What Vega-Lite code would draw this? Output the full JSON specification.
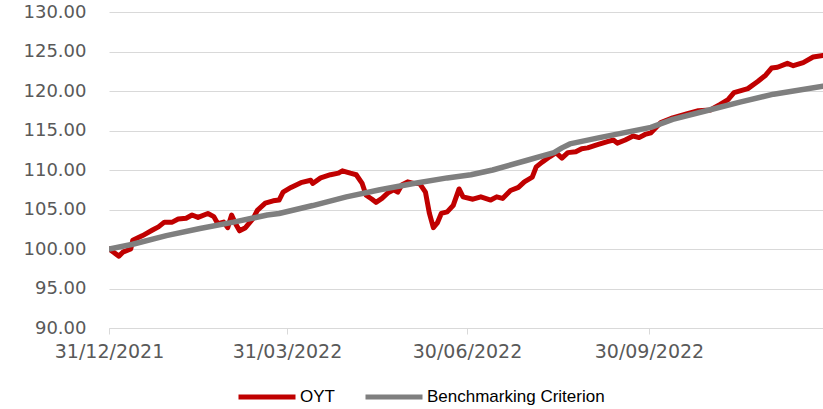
{
  "$schema": "https://vega.github.io/schema/vega-lite/v6.json",
  "autosize": "none",
  "width": 714,
  "height": 316,
  "padding": {"left": 109, "top": 12, "right": 0, "bottom": 81},
  "background": "white",
  "config": {"view": {"stroke": null}},
  "datasets": {
    "oyt": [
      {"date": "2021-12-31", "value": 100.0},
      {"date": "2022-01-05", "value": 99.1},
      {"date": "2022-01-07", "value": 99.6},
      {"date": "2022-01-11", "value": 100.0},
      {"date": "2022-01-12", "value": 101.1},
      {"date": "2022-01-17", "value": 101.7},
      {"date": "2022-01-22", "value": 102.4},
      {"date": "2022-01-25", "value": 102.8},
      {"date": "2022-01-28", "value": 103.4},
      {"date": "2022-02-01", "value": 103.4},
      {"date": "2022-02-04", "value": 103.8},
      {"date": "2022-02-08", "value": 103.9},
      {"date": "2022-02-11", "value": 104.3},
      {"date": "2022-02-14", "value": 104.0},
      {"date": "2022-02-19", "value": 104.5},
      {"date": "2022-02-22", "value": 104.1},
      {"date": "2022-02-24", "value": 103.2},
      {"date": "2022-02-27", "value": 103.4},
      {"date": "2022-03-01", "value": 102.7},
      {"date": "2022-03-03", "value": 104.3},
      {"date": "2022-03-05", "value": 103.2},
      {"date": "2022-03-07", "value": 102.3},
      {"date": "2022-03-10", "value": 102.7},
      {"date": "2022-03-14", "value": 103.9},
      {"date": "2022-03-16", "value": 104.9},
      {"date": "2022-03-20", "value": 105.8},
      {"date": "2022-03-24", "value": 106.1},
      {"date": "2022-03-27", "value": 106.2},
      {"date": "2022-03-29", "value": 107.2},
      {"date": "2022-04-02", "value": 107.8},
      {"date": "2022-04-07", "value": 108.4},
      {"date": "2022-04-12", "value": 108.7},
      {"date": "2022-04-13", "value": 108.3},
      {"date": "2022-04-17", "value": 109.0},
      {"date": "2022-04-22", "value": 109.4},
      {"date": "2022-04-26", "value": 109.6},
      {"date": "2022-04-28", "value": 109.9},
      {"date": "2022-05-02", "value": 109.6},
      {"date": "2022-05-05", "value": 109.4},
      {"date": "2022-05-08", "value": 108.3},
      {"date": "2022-05-10", "value": 106.8},
      {"date": "2022-05-13", "value": 106.3},
      {"date": "2022-05-15", "value": 105.9},
      {"date": "2022-05-18", "value": 106.4},
      {"date": "2022-05-21", "value": 107.1},
      {"date": "2022-05-24", "value": 107.5},
      {"date": "2022-05-26", "value": 107.2},
      {"date": "2022-05-28", "value": 108.1},
      {"date": "2022-05-31", "value": 108.5},
      {"date": "2022-06-03", "value": 108.3},
      {"date": "2022-06-06", "value": 108.3},
      {"date": "2022-06-09", "value": 107.2},
      {"date": "2022-06-11", "value": 104.5},
      {"date": "2022-06-13", "value": 102.7},
      {"date": "2022-06-15", "value": 103.3},
      {"date": "2022-06-17", "value": 104.5},
      {"date": "2022-06-20", "value": 104.7},
      {"date": "2022-06-23", "value": 105.5},
      {"date": "2022-06-26", "value": 107.6},
      {"date": "2022-06-28", "value": 106.6},
      {"date": "2022-07-03", "value": 106.3},
      {"date": "2022-07-07", "value": 106.6},
      {"date": "2022-07-12", "value": 106.2},
      {"date": "2022-07-15", "value": 106.6},
      {"date": "2022-07-18", "value": 106.4},
      {"date": "2022-07-22", "value": 107.4},
      {"date": "2022-07-26", "value": 107.8},
      {"date": "2022-07-29", "value": 108.5},
      {"date": "2022-08-02", "value": 109.1},
      {"date": "2022-08-04", "value": 110.4},
      {"date": "2022-08-07", "value": 111.0},
      {"date": "2022-08-11", "value": 111.7},
      {"date": "2022-08-14", "value": 112.2},
      {"date": "2022-08-17", "value": 111.5},
      {"date": "2022-08-20", "value": 112.2},
      {"date": "2022-08-24", "value": 112.3},
      {"date": "2022-08-27", "value": 112.7},
      {"date": "2022-08-30", "value": 112.8},
      {"date": "2022-09-04", "value": 113.2},
      {"date": "2022-09-09", "value": 113.6},
      {"date": "2022-09-12", "value": 113.8},
      {"date": "2022-09-14", "value": 113.4},
      {"date": "2022-09-18", "value": 113.8},
      {"date": "2022-09-22", "value": 114.3},
      {"date": "2022-09-25", "value": 114.1},
      {"date": "2022-09-28", "value": 114.5},
      {"date": "2022-10-01", "value": 114.7},
      {"date": "2022-10-06", "value": 116.0},
      {"date": "2022-10-12", "value": 116.6},
      {"date": "2022-10-19", "value": 117.1},
      {"date": "2022-10-25", "value": 117.5},
      {"date": "2022-10-31", "value": 117.6},
      {"date": "2022-11-05", "value": 118.3},
      {"date": "2022-11-09", "value": 118.9},
      {"date": "2022-11-12", "value": 119.8},
      {"date": "2022-11-19", "value": 120.3},
      {"date": "2022-11-24", "value": 121.2},
      {"date": "2022-11-28", "value": 122.0},
      {"date": "2022-12-01", "value": 122.9},
      {"date": "2022-12-04", "value": 123.0},
      {"date": "2022-12-09", "value": 123.5},
      {"date": "2022-12-12", "value": 123.2},
      {"date": "2022-12-17", "value": 123.6},
      {"date": "2022-12-22", "value": 124.3},
      {"date": "2022-12-27", "value": 124.5}
    ],
    "bench": [
      {"date": "2021-12-31", "value": 100.0},
      {"date": "2022-01-12", "value": 100.6},
      {"date": "2022-01-29", "value": 101.7},
      {"date": "2022-02-15", "value": 102.6},
      {"date": "2022-03-04", "value": 103.4},
      {"date": "2022-03-21", "value": 104.3},
      {"date": "2022-03-27", "value": 104.5},
      {"date": "2022-04-13", "value": 105.5},
      {"date": "2022-04-30", "value": 106.6},
      {"date": "2022-05-17", "value": 107.5},
      {"date": "2022-06-03", "value": 108.3},
      {"date": "2022-06-20", "value": 109.0},
      {"date": "2022-07-02", "value": 109.4},
      {"date": "2022-07-13", "value": 110.0},
      {"date": "2022-07-30", "value": 111.2},
      {"date": "2022-08-13", "value": 112.2},
      {"date": "2022-08-17", "value": 112.8},
      {"date": "2022-08-21", "value": 113.3},
      {"date": "2022-09-05", "value": 114.1},
      {"date": "2022-10-01", "value": 115.4},
      {"date": "2022-10-12", "value": 116.4},
      {"date": "2022-10-29", "value": 117.5},
      {"date": "2022-11-15", "value": 118.6},
      {"date": "2022-12-02", "value": 119.6},
      {"date": "2022-12-27", "value": 120.6}
    ]
  },
  "encoding": {
    "x": {
      "field": "date",
      "type": "temporal",
      "scale": {
        "type": "utc",
        "domain": [
          {"year": 2021, "month": 12, "date": 31, "utc": true},
          {"year": 2022, "month": 12, "date": 27, "utc": true}
        ]
      },
      "axis": {
        "title": null,
        "values": [
          {"year": 2021, "month": 12, "date": 31, "utc": true},
          {"year": 2022, "month": 3, "date": 31, "utc": true},
          {"year": 2022, "month": 6, "date": 30, "utc": true},
          {"year": 2022, "month": 9, "date": 30, "utc": true}
        ],
        "format": "%d/%m/%Y",
        "grid": false,
        "domainColor": "#d9d9d9",
        "domainWidth": 1,
        "tickColor": "#d9d9d9",
        "tickSize": 6,
        "labelFont": "DejaVu Sans",
        "labelFontSize": 19,
        "labelColor": "#595959",
        "labelPadding": 8,
        "labelFlush": false,
        "labelOverlap": false
      }
    },
    "y": {
      "field": "value",
      "type": "quantitative",
      "scale": {"domain": [90, 130], "zero": false, "nice": false},
      "axis": {
        "title": null,
        "values": [90, 95, 100, 105, 110, 115, 120, 125, 130],
        "format": ".2f",
        "domain": false,
        "ticks": false,
        "gridColor": "#d9d9d9",
        "gridWidth": 1,
        "labelFont": "DejaVu Sans",
        "labelFontSize": 18,
        "labelColor": "#595959",
        "labelPadding": 23
      }
    },
    "color": {
      "field": "series",
      "type": "nominal",
      "scale": {
        "domain": ["OYT", "Benchmarking Criterion"],
        "range": ["#c00000", "#7f7f7f"]
      },
      "legend": {
        "title": null,
        "orient": "none",
        "direction": "horizontal",
        "legendX": 127,
        "legendY": 354,
        "symbolType": "stroke",
        "symbolSize": 3249,
        "symbolStrokeWidth": 5,
        "labelFont": "Liberation Sans",
        "labelFontSize": 17,
        "labelColor": "#000000",
        "labelOffset": 2,
        "labelLimit": 0,
        "columnPadding": 20
      }
    }
  },
  "layer": [
    {
      "data": {"name": "oyt"},
      "transform": [{"calculate": "'OYT'", "as": "series"}],
      "mark": {"type": "line", "strokeWidth": 5, "strokeJoin": "round", "strokeCap": "round", "clip": true}
    },
    {
      "data": {"name": "bench"},
      "transform": [{"calculate": "'Benchmarking Criterion'", "as": "series"}],
      "mark": {"type": "line", "strokeWidth": 5.5, "strokeJoin": "round", "strokeCap": "round", "clip": true}
    }
  ]
}
